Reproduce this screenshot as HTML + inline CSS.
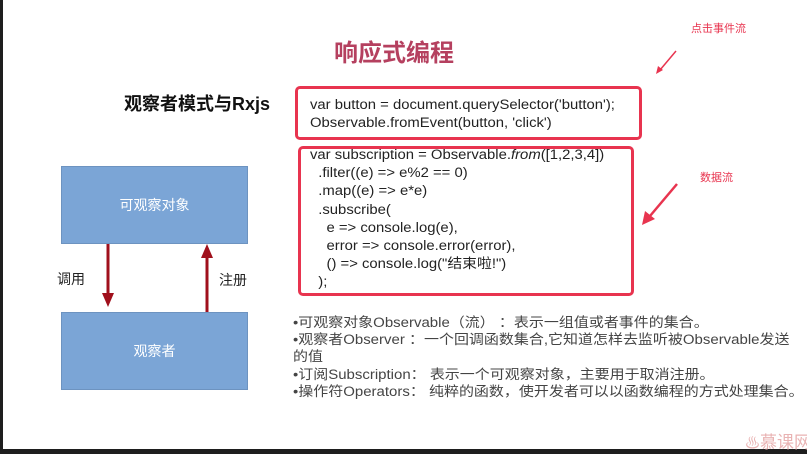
<!DOCTYPE html>
<html><head><meta charset="utf-8"><style>
html,body{margin:0;padding:0}
body{width:807px;height:454px;position:relative;overflow:hidden;background:#fff;font-family:"Liberation Sans","Noto Sans CJK SC",sans-serif}
.a{position:absolute;white-space:nowrap}
.code{font-size:13.5px;color:#222;line-height:18.2px;transform:scaleX(1.1);transform-origin:0 0}
.box{position:absolute;border:3px solid #e8344f;border-radius:5px}
.blue{position:absolute;background:#7ba5d6;border:1px solid #6d93c0;color:#fff;font-size:14px;display:flex;align-items:center;justify-content:center}
.bul{font-size:13.5px;color:#444;line-height:17.2px;transform:scaleX(1.11);transform-origin:0 0}
</style></head><body>
<div class="a" style="left:0;top:0;width:3px;height:454px;background:#1e1e1e"></div>
<div class="a" style="left:0;top:449px;width:807px;height:5px;background:#1e1e1e"></div>

<div class="a" style="left:334px;top:33px;font-size:24px;font-weight:bold;color:#b5405f">响应式编程</div>
<div class="a" style="left:124px;top:90px;font-size:18px;font-weight:bold;color:#111">观察者模式与Rxjs</div>
<div class="a" style="left:691px;top:20px;font-size:11px;color:#e8344f">点击事件流</div>
<div class="a" style="left:700px;top:169px;font-size:11px;color:#e8344f">数据流</div>

<svg class="a" style="left:0;top:0" width="807" height="454">
<line x1="676" y1="51" x2="660" y2="70" stroke="#e8344f" stroke-width="1.5"/>
<polygon points="656,74 658,66 663,70" fill="#e8344f"/>
<line x1="677" y1="184" x2="650" y2="216" stroke="#e8344f" stroke-width="2.5"/>
<polygon points="642,225 645,211 655,219" fill="#e8344f"/>
<line x1="108" y1="243" x2="108" y2="295" stroke="#a0101c" stroke-width="3"/>
<polygon points="102,293 114,293 108,307" fill="#a0101c"/>
<line x1="207" y1="312" x2="207" y2="256" stroke="#a0101c" stroke-width="3"/>
<polygon points="201,258 213,258 207,244" fill="#a0101c"/>
</svg>

<div class="box" style="left:295px;top:86px;width:341px;height:48px"></div>
<div class="box" style="left:298px;top:146px;width:330px;height:144px"></div>
<div class="a code" style="left:310px;top:96px">var button = document.querySelector('button');<br>Observable.fromEvent(button, 'click')</div>
<div class="a code" style="left:310px;top:146px">var subscription = Observable.<i>from</i>([1,2,3,4])<br>&nbsp;&nbsp;.filter((e) =&gt; e%2 == 0)<br>&nbsp;&nbsp;.map((e) =&gt; e*e)<br>&nbsp;&nbsp;.subscribe(<br>&nbsp;&nbsp;&nbsp;&nbsp;e =&gt; console.log(e),<br>&nbsp;&nbsp;&nbsp;&nbsp;error =&gt; console.error(error),<br>&nbsp;&nbsp;&nbsp;&nbsp;() =&gt; console.log("结束啦!")<br>&nbsp;&nbsp;);</div>

<div class="blue" style="left:61px;top:166px;width:185px;height:76px">可观察对象</div>
<div class="blue" style="left:61px;top:312px;width:185px;height:76px">观察者</div>
<div class="a" style="left:57px;top:269px;font-size:14px;color:#222">调用</div>
<div class="a" style="left:219px;top:270px;font-size:14px;color:#222">注册</div>

<div class="a bul" style="left:293px;top:314px">•可观察对象Observable（流）&nbsp;：表示一组值或者事件的集合。<br>•观察者Observer ：一个回调函数集合,它知道怎样去监听被Observable发送<br>的值<br>•订阅Subscription： 表示一个可观察对象，主要用于取消注册。<br>•操作符Operators： 纯粹的函数，使开发者可以以函数编程的方式处理集合。</div>

<div class="a" style="left:745px;top:428px;font-size:17px;color:#e9b3b3"><span style="font-size:15px">♨</span>慕课网</div>
</body></html>
